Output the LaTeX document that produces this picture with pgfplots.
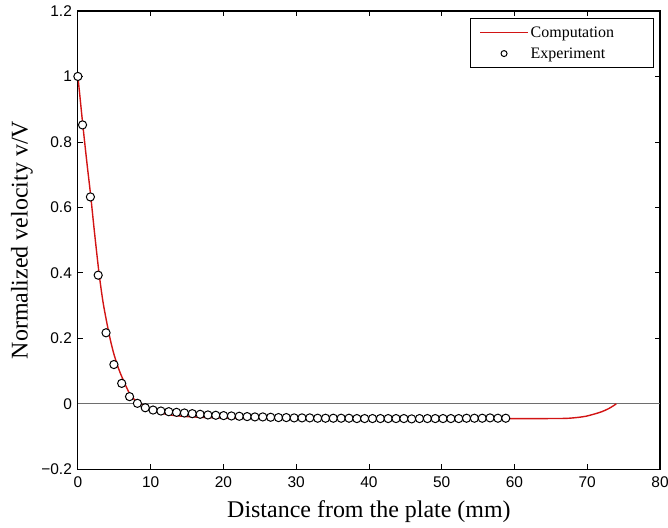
\documentclass[border=0pt]{standalone}
\usepackage{fontspec}
\setmainfont{Liberation Serif}
\newfontfamily\ticksans{Liberation Sans}
\usepackage{pgfplots}
\pgfplotsset{compat=1.18}
\definecolor{curvered}{RGB}{210,20,20}
\definecolor{zerogray}{RGB}{110,110,110}
\begin{document}
\begin{tikzpicture}
\useasboundingbox (-78pt,-58pt) rectangle (591pt,470pt);
\begin{axis}[
  at={(0,0)}, anchor=south west,
  scale only axis, width=583pt, height=459pt,
  xmin=0, xmax=80, ymin=-0.2, ymax=1.2,
  xtick={0,10,20,30,40,50,60,70,80},
  xticklabels={0,10,20,30,40,50,60,70,80},
  ytick={-0.2,0,0.2,0.4,0.6,0.8,1,1.2},
  yticklabels={−0.2,0,0.2,0.4,0.6,0.8,1,1.2},
  tick align=inside, tick pos=both,
  major tick length=5pt,
  every tick/.style={black, line width=0.8pt},
  axis line style={black, line width=1.1pt},
  ticklabel style={font=\ticksans\fontsize{15.5}{18}\selectfont},
  xticklabel style={yshift=-4pt},
  yticklabel style={xshift=-2.5pt},
  xlabel={Distance from the plate (mm)},
  ylabel={Normalized velocity v/V},
  label style={font=\fontsize{24}{28}\selectfont},
  xlabel style={at={(axis description cs:0.5,0)}, anchor=center, yshift=-42pt},
  ylabel style={at={(axis description cs:0,0.5)}, anchor=center, yshift=56pt},
  legend style={at={(axis description cs:1,1)}, anchor=north east,
    xshift=-6pt, yshift=-7pt, draw=black, line width=1pt,
    font=\fontsize{16}{19}\selectfont, inner xsep=9pt, inner ysep=6pt,
    row sep=5pt, nodes={text width=112pt, inner ysep=2pt}},
  legend cell align=left,
  legend image code/.code={\draw[mark repeat=2,mark phase=2] plot coordinates {(0pt,0pt) (24pt,0pt) (48pt,0pt)};},
]
\addplot[forget plot, zerogray, line width=0.8pt] coordinates {(0,0) (80,0)};
\addplot[curvered, line width=1.4pt, smooth, no markers, legend image post style={line width=1.4pt, curvered}] coordinates {
(0,1.0) (0.3,0.935) (0.64,0.86) (1.0,0.785) (1.35,0.715) (1.74,0.64) (2.3,0.52) (2.93,0.395)
(3.5,0.305) (4.3,0.212) (4.85,0.16) (5.4,0.12) (5.9,0.09) (6.45,0.0625) (6.9,0.04) (7.4,0.022)
(8.0,0.009) (8.8,-0.002) (9.5,-0.011) (10.3,-0.02) (11.3,-0.028) (13,-0.035) (15,-0.039)
(18,-0.042) (22,-0.044) (28,-0.045) (40,-0.045) (55,-0.045) (64,-0.045) (67,-0.0445)
(68.5,-0.042) (69.8,-0.038) (71,-0.031) (72,-0.024) (73,-0.014) (74,0)};
\addlegendentry{Computation}
\addplot[only marks, mark=*, mark size=4.1pt, mark options={fill=white, draw=black, line width=1pt}, legend image post style={mark size=3pt}] coordinates {
(0,1.0) (0.64,0.852) (1.72,0.632) (2.79,0.393) (3.87,0.217) (4.95,0.120) (6.02,0.0625)
(7.10,0.022) (8.18,0.0015) (9.26,-0.012) (10.33,-0.019) (11.41,-0.022) (12.49,-0.024)
(13.56,-0.026) (14.64,-0.028) (15.72,-0.030) (16.80,-0.032) (17.87,-0.034) (18.95,-0.035)
(20.03,-0.036) (21.10,-0.037) (22.18,-0.038) (23.26,-0.039) (24.33,-0.040) (25.41,-0.040)
(26.49,-0.041) (27.57,-0.042) (28.64,-0.042) (29.72,-0.043) (30.80,-0.043) (31.87,-0.043)
(32.95,-0.044) (34.03,-0.044) (35.10,-0.044) (36.18,-0.044) (37.26,-0.044) (38.34,-0.045)
(39.41,-0.045) (40.49,-0.045) (41.57,-0.045) (42.64,-0.045) (43.72,-0.045) (44.80,-0.045)
(45.87,-0.046) (46.95,-0.045) (48.03,-0.045) (49.11,-0.045) (50.18,-0.045) (51.26,-0.045)
(52.34,-0.045) (53.41,-0.044) (54.49,-0.044) (55.57,-0.044) (56.64,-0.043) (57.72,-0.044)
(58.80,-0.044)};
\addlegendentry{Experiment}
\end{axis}
\end{tikzpicture}
\end{document}
